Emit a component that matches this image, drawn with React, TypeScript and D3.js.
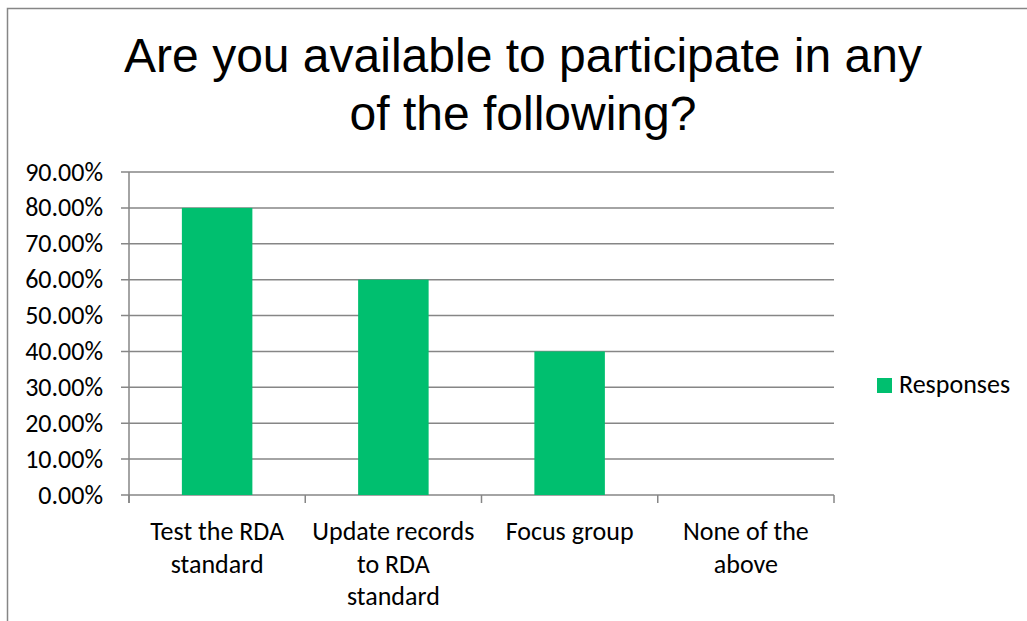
import React from "react";
import * as d3 from "d3";

const categories: string[][] = [
  ["Test the RDA", "standard"],
  ["Update records", "to RDA", "standard"],
  ["Focus group"],
  ["None of the", "above"],
];
const responses: number[] = [0.8, 0.6, 0.4, 0];
const yTicks: number[] = [0, 0.1, 0.2, 0.3, 0.4, 0.5, 0.6, 0.7, 0.8, 0.9];
const titleLines: string[] = ["Are you available to participate in any", "of the following?"];
const seriesName = "Responses";

const W = 1027;
const H = 621;
const plot = { left: 129, right: 834, top: 172, bottom: 495 };
const GREEN = "#00BF6F";
const GRID = "#868686";
const LABEL_FONT = "Carlito, Calibri, 'Open Sans', sans-serif";
const LABEL_SIZE = 26;

export default function App() {
  const x = d3
    .scaleBand<number>()
    .domain(d3.range(categories.length))
    .range([plot.left, plot.right])
    .paddingInner(0.6)
    .paddingOuter(0.3);
  const band = d3
    .scaleBand<number>()
    .domain(d3.range(categories.length))
    .range([plot.left, plot.right]);
  const y = d3.scaleLinear().domain([0, 0.9]).range([plot.bottom, plot.top]);
  const fmt = d3.format(".2%");

  return (
    <svg
      width={W}
      height={H}
      style={{ position: "absolute", left: 0, top: 0, background: "#fff" }}
    >
      <rect x={0} y={0} width={W} height={H} fill="#fff" />
      <path d={`M7.5,${H} V8.5 H${W}`} fill="none" stroke={GRID} strokeWidth={1.5} />
      {titleLines.map((t, i) => (
        <text
          key={i}
          x={523}
          y={72 + i * 58}
          textAnchor="middle"
          fontFamily="'Liberation Sans', Arial, sans-serif"
          fontSize={48}
          fill="#000"
        >
          {t}
        </text>
      ))}
      {yTicks.map((v) => (
        <g key={v}>
          <line
            x1={plot.left - 8}
            x2={plot.right}
            y1={y(v)}
            y2={y(v)}
            stroke={GRID}
            strokeWidth={1.5}
          />
          <text
            x={103}
            y={y(v) + 8.5}
            textAnchor="end"
            fontFamily={LABEL_FONT}
            fontSize={LABEL_SIZE}
            fill="#000"
          >
            {fmt(v)}
          </text>
        </g>
      ))}
      <line x1={plot.left} x2={plot.left} y1={plot.top} y2={plot.bottom + 8} stroke={GRID} strokeWidth={1.5} />
      {d3.range(categories.length + 1).map((i) => {
        const xx = i < categories.length ? (band(i) as number) : plot.right;
        return (
          <line key={i} x1={xx} x2={xx} y1={plot.bottom} y2={plot.bottom + 8} stroke={GRID} strokeWidth={1.5} />
        );
      })}
      {responses.map((v, i) => (
        <rect
          key={i}
          x={x(i)}
          y={y(v)}
          width={x.bandwidth()}
          height={plot.bottom - y(v)}
          fill={GREEN}
        />
      ))}
      {categories.map((lines, i) => (
        <text
          key={i}
          textAnchor="middle"
          fontFamily={LABEL_FONT}
          fontSize={LABEL_SIZE}
          fill="#000"
        >
          {lines.map((l, j) => (
            <tspan key={j} x={(band(i) as number) + band.bandwidth() / 2} y={540 + j * 32.5}>
              {l}
            </tspan>
          ))}
        </text>
      ))}
      <rect x={877} y={378} width={15} height={15} fill={GREEN} />
      <text x={899} y={393} fontFamily={LABEL_FONT} fontSize={LABEL_SIZE} fill="#000">
        {seriesName}
      </text>
    </svg>
  );
}
